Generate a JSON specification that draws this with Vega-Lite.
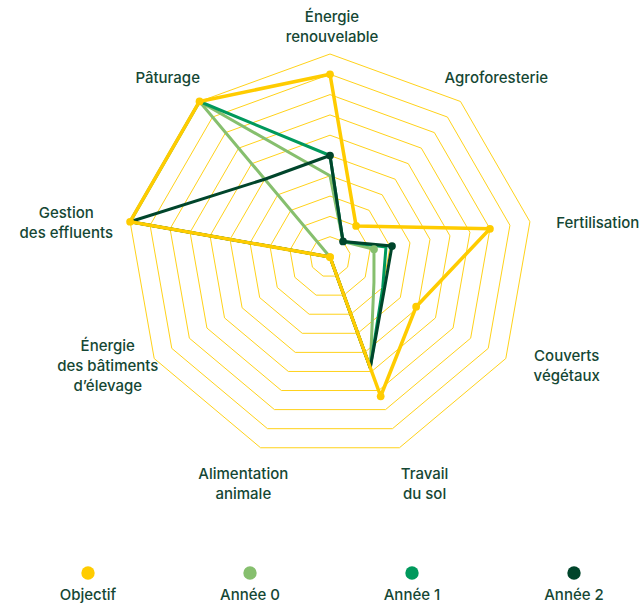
{
  "$schema": "https://vega.github.io/schema/vega-lite/v6.json",
  "padding": 0,
  "spacing": 0,
  "config": {"view": {"stroke": null}, "font": "Inter"},
  "resolve": {"scale": {"x": "independent", "y": "independent"}},
  "datasets": {
    "scores": [
      {"serie": "Année 0", "axe": "Énergie renouvelable", "valeur": 4},
      {"serie": "Année 0", "axe": "Agroforesterie", "valeur": 1},
      {"serie": "Année 0", "axe": "Fertilisation", "valeur": 2.2},
      {"serie": "Année 0", "axe": "Couverts végétaux", "valeur": 2.5},
      {"serie": "Année 0", "axe": "Travail du sol", "valeur": 5.8},
      {"serie": "Année 0", "axe": "Alimentation animale", "valeur": 0},
      {"serie": "Année 0", "axe": "Énergie des bâtiments d’élevage", "valeur": 0},
      {"serie": "Année 0", "axe": "Gestion des effluents", "valeur": 0},
      {"serie": "Année 0", "axe": "Pâturage", "valeur": 10},
      {"serie": "Année 1", "axe": "Énergie renouvelable", "valeur": 5},
      {"serie": "Année 1", "axe": "Agroforesterie", "valeur": 1},
      {"serie": "Année 1", "axe": "Fertilisation", "valeur": 2.8},
      {"serie": "Année 1", "axe": "Couverts végétaux", "valeur": 3},
      {"serie": "Année 1", "axe": "Travail du sol", "valeur": 5.8},
      {"serie": "Année 1", "axe": "Alimentation animale", "valeur": 0},
      {"serie": "Année 1", "axe": "Énergie des bâtiments d’élevage", "valeur": 0},
      {"serie": "Année 1", "axe": "Gestion des effluents", "valeur": 10},
      {"serie": "Année 1", "axe": "Pâturage", "valeur": 10},
      {"serie": "Année 2", "axe": "Énergie renouvelable", "valeur": 5},
      {"serie": "Année 2", "axe": "Agroforesterie", "valeur": 1},
      {"serie": "Année 2", "axe": "Fertilisation", "valeur": 3.1},
      {"serie": "Année 2", "axe": "Couverts végétaux", "valeur": 3.1},
      {"serie": "Année 2", "axe": "Travail du sol", "valeur": 5.8},
      {"serie": "Année 2", "axe": "Alimentation animale", "valeur": 0},
      {"serie": "Année 2", "axe": "Énergie des bâtiments d’élevage", "valeur": 0},
      {"serie": "Année 2", "axe": "Gestion des effluents", "valeur": 10},
      {"serie": "Année 2", "axe": "Pâturage", "valeur": 5},
      {"serie": "Objectif", "axe": "Énergie renouvelable", "valeur": 9},
      {"serie": "Objectif", "axe": "Agroforesterie", "valeur": 2},
      {"serie": "Objectif", "axe": "Fertilisation", "valeur": 8},
      {"serie": "Objectif", "axe": "Couverts végétaux", "valeur": 4.9},
      {"serie": "Objectif", "axe": "Travail du sol", "valeur": 7.3},
      {"serie": "Objectif", "axe": "Alimentation animale", "valeur": 0},
      {"serie": "Objectif", "axe": "Énergie des bâtiments d’élevage", "valeur": 0},
      {"serie": "Objectif", "axe": "Gestion des effluents", "valeur": 10},
      {"serie": "Objectif", "axe": "Pâturage", "valeur": 10}
    ],
    "axes": [
      {"axe": "Énergie renouvelable", "libelle": "Énergie\nrenouvelable"},
      {"axe": "Agroforesterie", "libelle": "Agroforesterie"},
      {"axe": "Fertilisation", "libelle": "Fertilisation"},
      {"axe": "Couverts végétaux", "libelle": "Couverts\nvégétaux"},
      {"axe": "Travail du sol", "libelle": "Travail\ndu sol"},
      {"axe": "Alimentation animale", "libelle": "Alimentation\nanimale"},
      {"axe": "Énergie des bâtiments d’élevage", "libelle": "Énergie\ndes bâtiments\nd’élevage"},
      {"axe": "Gestion des effluents", "libelle": "Gestion\ndes effluents"},
      {"axe": "Pâturage", "libelle": "Pâturage"}
    ],
    "anneaux": [
      {"niveau": 1, "sommets": [0, 1, 2, 3, 4, 5, 6, 7, 8]},
      {"niveau": 2, "sommets": [0, 1, 2, 3, 4, 5, 6, 7, 8]},
      {"niveau": 3, "sommets": [0, 1, 2, 3, 4, 5, 6, 7, 8]},
      {"niveau": 4, "sommets": [0, 1, 2, 3, 4, 5, 6, 7, 8]},
      {"niveau": 5, "sommets": [0, 1, 2, 3, 4, 5, 6, 7, 8]},
      {"niveau": 6, "sommets": [0, 1, 2, 3, 4, 5, 6, 7, 8]},
      {"niveau": 7, "sommets": [0, 1, 2, 3, 4, 5, 6, 7, 8]},
      {"niveau": 8, "sommets": [0, 1, 2, 3, 4, 5, 6, 7, 8]},
      {"niveau": 9, "sommets": [0, 1, 2, 3, 4, 5, 6, 7, 8]},
      {"niveau": 10, "sommets": [0, 1, 2, 3, 4, 5, 6, 7, 8]}
    ]
  },
  "vconcat": [
    {
      "width": 643,
      "height": 540,
      "layer": [
        {
          "data": {"name": "anneaux"},
          "transform": [
            {"flatten": ["sommets"], "as": ["i"]},
            {"calculate": "datum.i * 2 * PI / 9", "as": "angle"},
            {"calculate": "datum.niveau * 20.3 * sin(datum.angle)", "as": "x"},
            {"calculate": "datum.niveau * 20.3 * cos(datum.angle)", "as": "y"}
          ],
          "mark": {"type": "line", "interpolate": "linear-closed", "color": "#FFD21A", "strokeWidth": 1},
          "encoding": {
            "x": {"field": "x", "type": "quantitative", "scale": {"domain": [-330, 313], "nice": false, "zero": false}, "axis": null},
            "y": {"field": "y", "type": "quantitative", "scale": {"domain": [-283, 257], "nice": false, "zero": false}, "axis": null},
            "detail": {"field": "niveau", "type": "nominal"},
            "order": {"field": "i", "type": "quantitative"}
          }
        },
        {
          "data": {"name": "scores"},
          "transform": [
            {"calculate": "indexof(['Énergie renouvelable','Agroforesterie','Fertilisation','Couverts végétaux','Travail du sol','Alimentation animale','Énergie des bâtiments d’élevage','Gestion des effluents','Pâturage'], datum.axe)", "as": "rang"},
            {"calculate": "datum.rang * 2 * PI / 9", "as": "angle"},
            {"calculate": "datum.valeur * 20.3 * sin(datum.angle)", "as": "x"},
            {"calculate": "datum.valeur * 20.3 * cos(datum.angle)", "as": "y"}
          ],
          "mark": {"type": "line", "interpolate": "linear-closed", "strokeJoin": "round", "strokeCap": "round"},
          "encoding": {
            "x": {"field": "x", "type": "quantitative", "scale": {"domain": [-330, 313], "nice": false, "zero": false}, "axis": null},
            "y": {"field": "y", "type": "quantitative", "scale": {"domain": [-283, 257], "nice": false, "zero": false}, "axis": null},
            "color": {"field": "serie", "type": "nominal", "scale": {"domain": ["Objectif", "Année 0", "Année 1", "Année 2"], "range": ["#FFCC00", "#86BF6E", "#00995C", "#00452B"]}, "legend": null},
            "strokeWidth": {"condition": {"test": "datum.serie === 'Objectif'", "value": 3.5}, "value": 3},
            "order": {"field": "rang", "type": "quantitative"}
          }
        },
        {
          "data": {"name": "scores"},
          "transform": [
            {"calculate": "indexof(['Énergie renouvelable','Agroforesterie','Fertilisation','Couverts végétaux','Travail du sol','Alimentation animale','Énergie des bâtiments d’élevage','Gestion des effluents','Pâturage'], datum.axe)", "as": "rang"},
            {"filter": "datum.serie === 'Objectif' || (datum.serie === 'Année 2' && datum.rang <= 2) || (datum.serie === 'Année 0' && datum.rang === 2)"},
            {"calculate": "datum.rang * 2 * PI / 9", "as": "angle"},
            {"calculate": "datum.valeur * 20.3 * sin(datum.angle)", "as": "x"},
            {"calculate": "datum.valeur * 20.3 * cos(datum.angle)", "as": "y"}
          ],
          "mark": {"type": "circle", "size": 60, "opacity": 1},
          "encoding": {
            "x": {"field": "x", "type": "quantitative", "scale": {"domain": [-330, 313], "nice": false, "zero": false}, "axis": null},
            "y": {"field": "y", "type": "quantitative", "scale": {"domain": [-283, 257], "nice": false, "zero": false}, "axis": null},
            "color": {"field": "serie", "type": "nominal", "scale": {"domain": ["Objectif", "Année 0", "Année 1", "Année 2"], "range": ["#FFCC00", "#86BF6E", "#00995C", "#00452B"]}, "legend": null}
          }
        },
        {
          "data": {"name": "axes"},
          "transform": [
            {"calculate": "indexof(['Énergie renouvelable','Agroforesterie','Fertilisation','Couverts végétaux','Travail du sol','Alimentation animale','Énergie des bâtiments d’élevage','Gestion des effluents','Pâturage'], datum.axe)", "as": "rang"},
            {"calculate": "length(split(datum.libelle, '\\n'))", "as": "lignes"},
            {"calculate": "datum.rang * 2 * PI / 9", "as": "angle"},
            {"calculate": "sin(datum.angle)", "as": "s"},
            {"calculate": "cos(datum.angle)", "as": "c"},
            {"calculate": "datum.c >= 0 ? 274 * datum.s + 2 - 24 * datum.s * datum.c : 265 * datum.s + 11 + 7.5 * datum.c", "as": "x"},
            {"calculate": "(datum.c >= 0 ? 273.8 * datum.c - 31.6 * datum.c * datum.c : 151.1 * datum.c - 83 * datum.c * datum.c) - 12.2 + (datum.lignes - 1) * 10", "as": "y"}
          ],
          "mark": {"type": "text", "align": "center", "baseline": "middle", "lineBreak": "\n", "lineHeight": 20, "fontSize": 15, "fontWeight": 500, "color": "#154734"},
          "encoding": {
            "x": {"field": "x", "type": "quantitative", "scale": {"domain": [-330, 313], "nice": false, "zero": false}, "axis": null},
            "y": {"field": "y", "type": "quantitative", "scale": {"domain": [-283, 257], "nice": false, "zero": false}, "axis": null},
            "text": {"field": "libelle", "type": "nominal"}
          }
        }
      ]
    },
    {
      "width": 643,
      "height": 66,
      "data": {"name": "scores"},
      "transform": [{"aggregate": [], "groupby": ["serie"]}],
      "encoding": {
        "x": {"field": "serie", "type": "nominal", "sort": ["Objectif", "Année 0", "Année 1", "Année 2"], "scale": {"type": "point", "range": [88, 574], "padding": 0}, "axis": null}
      },
      "layer": [
        {
          "mark": {"type": "circle", "size": 180, "opacity": 1},
          "encoding": {
            "color": {"field": "serie", "type": "nominal", "scale": {"domain": ["Objectif", "Année 0", "Année 1", "Année 2"], "range": ["#FFCC00", "#86BF6E", "#00995C", "#00452B"]}, "legend": null}
          }
        },
        {
          "mark": {"type": "text", "dy": 22, "fontSize": 15, "fontWeight": 500, "color": "#154734", "baseline": "middle"},
          "encoding": {"text": {"field": "serie", "type": "nominal"}}
        }
      ]
    }
  ]
}
